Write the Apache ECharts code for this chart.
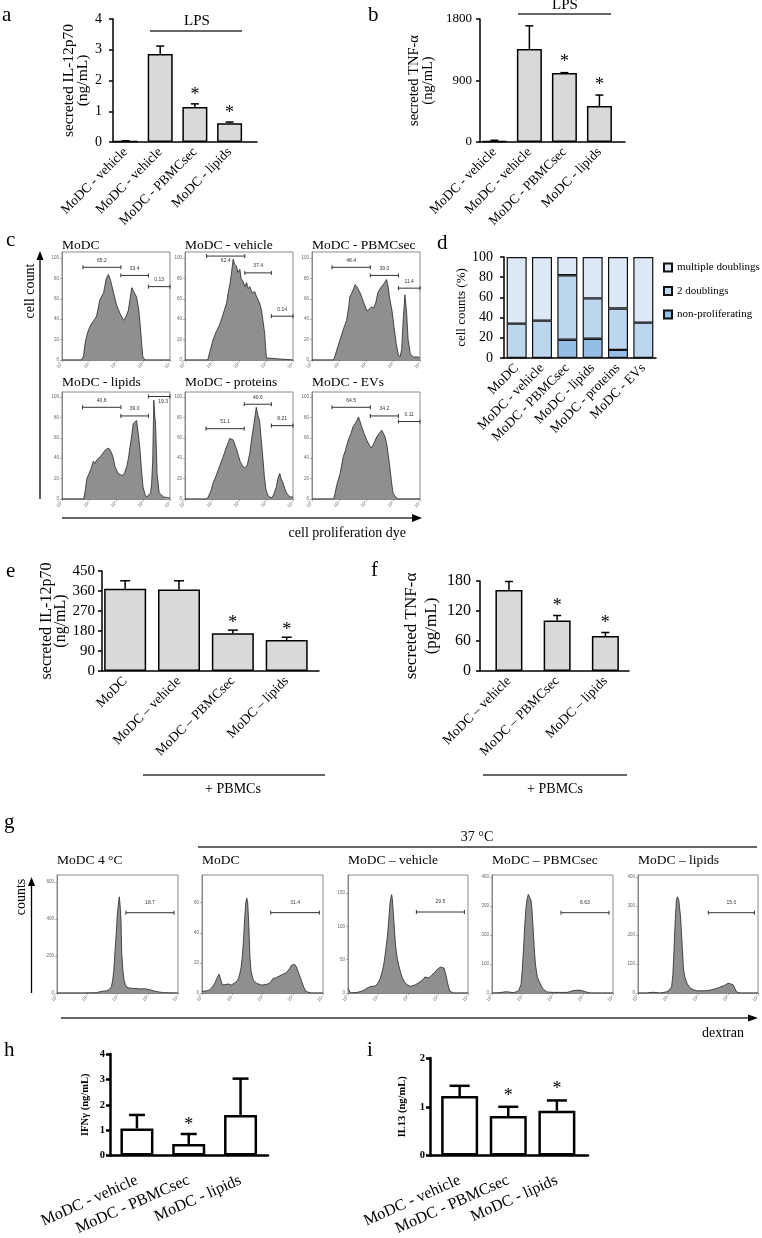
<!DOCTYPE html>
<html>
<head>
<meta charset="utf-8">
<script src="https://cdn.jsdelivr.net/npm/echarts@6/dist/echarts.min.js"></script>
<style>
  html, body { margin: 0; padding: 0; background: #fff; }
  #myChart { width: 762px; height: 1238px; }
</style>
</head>
<body>
<div id="myChart"></div>
<script>
// ---- a / b : LPS stimulated MoDC ----
const catsAB = ['MoDC - vehicle', 'MoDC - vehicle', 'MoDC - PBMCsec', 'MoDC - lipids'];
const il12A = [0.03, 2.86, 1.14, 0.61];
const il12AErr = [0.01, 0.26, 0.1, 0.04];
const sigA = [0, 0, 1, 1];
const tnfB = [15, 1360, 1010, 527];
const tnfBErr = [10, 340, 5, 160];
const sigB = [0, 0, 1, 1];

// ---- d : proliferation (%) ----
const catsD = ['MoDC', 'MoDC - vehicle', 'MoDC - PBMCsec', 'MoDC - lipids', 'MoDC - proteins', 'MoDC - EVs'];
const nonProlif = [0, 0, 18, 19, 8, 0];
const twoDoublings = [34, 37, 64, 40, 41, 35];
const multiDoublings = [66, 63, 18, 41, 51, 65];

// ---- e / f : + PBMCs ----
const catsE = ['MoDC', 'MoDC – vehicle', 'MoDC – PBMCsec', 'MoDC – lipids'];
const il12E = [370, 367, 170, 140];
const il12EErr = [36, 39, 14, 12];
const sigE = [0, 0, 1, 1];
const catsF = ['MoDC – vehicle', 'MoDC – PBMCsec', 'MoDC – lipids'];
const tnfF = [162, 101, 70];
const tnfFErr = [17, 10, 7];
const sigF = [0, 1, 1];

// ---- h / i ----
const catsHI = ['MoDC - vehicle', 'MoDC - PBMCsec', 'MoDC - lipids'];
const ifngH = [1.07, 0.46, 1.6];
const ifngHErr = [0.53, 0.39, 1.43];
const sigH = [0, 1, 0];
const il13I = [1.22, 0.81, 0.92];
const il13IErr = [0.21, 0.19, 0.21];
const sigI = [0, 1, 1];

// ---- c : proliferation dye histograms [position, cell count] ----
const logTicks = ['10⁰', '10¹', '10²', '10³', '10⁴'];
const histModc = [[0,0],[18,0],[20,4],[21,14],[22.5,22],[24.6,30],[27,35],[29,38],[32,43],[35,59],[38.5,66],[41,80],[43,84],[45,78],[47.7,66],[50.8,53],[54,45],[57,39],[59,42],[61.5,49],[63,60],[64.6,71],[66,68],[69,62],[71,50],[72,39],[73.5,20],[74.8,3],[77,0],[100,0]];
const histVehicle = [[0,0],[21,0],[23,8],[26,20],[29,28],[32,34.5],[35,44],[38.5,56],[40,66],[41.5,74],[43,85],[44.6,99],[46,94],[47.7,92],[49,86],[50.8,89],[52,80],[53.8,77],[55.5,72],[57,76],[58.5,70],[60,72],[62,66],[64.6,67],[66,63],[67.7,62],[69,56],[70.8,49],[72,40],[73.8,26],[74.6,12],[75.4,2],[77,0.5],[100,0]];
const histPbmcsec = [[0,0],[20,0],[21,3],[23,10],[26,20],[29,30],[32,39],[34,52],[35,62],[37,66],[40,74],[41.5,72],[43,72],[44.5,66],[46,62],[49,53],[51,48],[52,49],[55,52],[57,51],[59,56],[61,66],[63,70],[66,74],[67.5,73],[69,79],[70.5,72],[72,60],[74,49],[76,32],[78,16],[80,5],[81.5,3],[83,10],[84.5,40],[86,64],[87.5,48],[89,20],[91,6],[94,3],[98,3],[100,2]];
const histLipids = [[0,0],[20,0],[21.5,8],[23,20],[24.6,24],[27,30],[29,37],[30.5,35],[32,38],[35.4,41.5],[38,45],[40,48],[41.5,47],[43,50],[44.5,48],[46,45],[47.5,40],[49,32],[52,25],[54,24],[56,23],[58,26],[60,32],[61.5,40],[63,51],[64.5,62],[66,74],[67.5,73],[69,77],[70.5,65],[72,51],[73.5,30],[75,12],[77,4],[78.5,2],[80,2],[82,6],[83,15],[84,38],[85,97],[86,80],[86.5,77],[87.5,45],[88,25],[90,6],[94,2],[100,1]];
const histProteins = [[0,0],[20,0],[21.5,2],[24,8],[26,15.6],[28.5,22],[30.8,28.6],[33,35],[35.4,41.6],[38,50],[41.5,59.4],[43,60],[44.6,58],[46,54],[48,48],[51,37],[53,33],[55,30.5],[57,32],[58,35],[60,45],[62,61],[64,75],[66,90],[67.5,82],[69,77],[70.5,60],[72,41.6],[73.5,22],[75,9],[77,3],[80,1],[82,4],[84.6,12],[86,20],[87.7,25],[89,20],[90.8,15.6],[92.5,10],[94,6],[97,2],[100,2]];
const histEVs = [[0,0],[20,0],[21,4],[23,14],[26,25],[29,41.6],[31,48],[33.6,58],[36,64],[38,71],[40,74],[41.5,77],[43,80.5],[44.5,76],[46,71],[48,65],[50.6,58],[53,53],[55,50],[57,54],[60,61],[62,64],[64.6,67.5],[66,66],[67.7,61],[69.5,52],[72,32],[73.5,18],[75,6],[78,1],[80,0],[100,0]];
// gates [from, to, height, label, label side]
const gatesModc = [[19.4,54.5,91,'65.2'],[54.5,80,83,'33.4'],[80,100,72,'0.13']];
const gatesVehicle = [[20,55.4,102,'62.4','below'],[55.4,80,85.5,'37.4'],[80,100,43,'0.14']];
const gatesPbmcsec = [[18.5,54,91,'48.4'],[54,80,83,'39.0'],[80,100,70.5,'11.4']];
const gatesLipids = [[19,54.5,90,'40.8'],[54.5,80,81.5,'39.0'],[80,100,100.6,'19.3','below']];
const gatesProteins = [[19.4,54.8,69,'51.1'],[54.8,80,93,'40.6'],[80,100,72,'8.21']];
const gatesEVs = [[18.5,54,90,'64.5'],[54,80,81.5,'34.2'],[80,100,76,'0.11']];

// ---- g : dextran uptake histograms [position, counts] ----
const dexModc4 = [[0,0],[21.8,0],[30,1],[32.8,2],[35.5,7],[38,10],[41,12],[43,18],[45,34],[46,70],[47,124],[48,232],[49,330],[49.8,421],[50.7,480],[51.5,520],[52.2,470],[52.9,394],[53.5,214],[54.5,120],[55.4,70],[56.5,45],[57.6,31],[60,27],[63,25],[66,24],[68.6,22],[71,23],[74,22],[77,17],[79.6,12],[84,6],[87.9,2],[92,1],[100,0]];
const dexModc = [[0,1],[1.4,0.9],[4,1.5],[6.3,2],[8.5,4],[10.5,6.4],[12.5,10],[14,12.5],[15.5,9],[16.8,5.3],[18.5,5.5],[20,6.4],[22,6],[24.2,5.3],[26.5,6.5],[28.4,7.5],[30,9.5],[31,12],[32.3,17],[33.3,24],[34.3,35],[35.3,50],[36.2,60],[37,63],[37.8,60],[38.7,45],[39.6,24],[40.6,14],[42.4,8.6],[45,6.5],[49,5.3],[52,5.5],[55.8,6.4],[57.3,8],[58.7,9.7],[60.7,10],[62.8,10.8],[64.2,11.2],[65.6,12],[67.5,12.8],[69.7,13.5],[71,14.5],[72.5,16.4],[74,18.5],[75.2,19.7],[76.5,19],[78,17.5],[80,13],[82,8.6],[84,4],[86,1],[90,0],[100,0]];
const dexVehicle = [[0,7],[0.8,10],[2.2,0],[5,0.5],[7.8,1],[10,2],[12,3.5],[14,5],[16,7.5],[17.5,8.5],[19,10],[21,10],[23,11],[25,15],[27,22.5],[28.5,32],[30,45],[31.5,65],[32.8,85],[34,110],[35,135],[35.7,142],[36.4,147.5],[37,140],[37.8,120],[38.7,95],[39.7,70],[41,53],[42.5,40],[44,30],[45.3,22.5],[47.3,16],[49.4,12.5],[51,11],[52,10],[54,11],[56.4,12.5],[58.5,15],[60.5,17.5],[62.5,20],[64,24],[65.5,23],[67.5,22.5],[69,25],[70,27.5],[72,30],[74,35],[75.5,37],[77,39],[78.5,39],[80,37.5],[81.5,28],[83,15],[84,8],[85,2.5],[88,0],[100,0]];
const dexPbmcsec = [[0,0],[1,0],[4,0.5],[6.6,1],[9,3],[12,4.6],[14.5,3],[17.6,1],[20,4],[22,8],[23,12.6],[24,30],[25,80],[26,148],[27,230],[28,290],[29,325],[30,340],[30.7,345],[31.4,338],[32.2,320],[33,290],[34,220],[35,148],[36,95],[37.5,55],[39.7,33],[42,15],[45,4.5],[47,3],[50.6,2],[56,2],[61.6,2],[64,4],[67,8],[70,9.5],[72.7,10],[75,7.5],[77,4.5],[81,0],[100,0]];
const dexLipids = [[0,0],[7,0],[10,1.5],[12.8,2.4],[15,1.5],[18,0],[21,2],[24,4.5],[26,10],[28,21.7],[29,60],[30,148],[31,250],[32,320],[32.8,332],[34,320],[35.5,260],[37,148],[38,80],[39,56],[41,32],[43,19.6],[46,11],[49,8],[53,7.5],[57,8],[60,10],[62.7,12.6],[65,15],[68,19.6],[70,23],[72,26],[73.5,30],[75,33.4],[77,32],[79.5,27.6],[80.8,15],[82,4.5],[84,1],[86,0],[100,0]];
const dexGates = [[57,96.7,434,'18.7'], [56.8,97,53.4,'31.4'], [57,97,121.5,'29.5'], [57,96.7,277,'6.63'], [58.6,97,277,'15.0']];

const SERIF = '"Liberation Serif", "Times New Roman", serif';
const SANS = '"Liberation Sans", Arial, sans-serif';

let grids = [], xAxes = [], yAxes = [], series = [], graphics = [];

function errorBars(capHalf, lw, starSize, starGap) {
  return (params, api) => {
    const base = api.coord([api.value(0), api.value(1)]);
    const top = api.coord([api.value(0), api.value(1) + api.value(2)]);
    const kids = [
      {type: 'line', shape: {x1: base[0], y1: base[1], x2: top[0], y2: top[1]}, style: {stroke: '#000', lineWidth: lw}},
      {type: 'line', shape: {x1: top[0] - capHalf, y1: top[1], x2: top[0] + capHalf, y2: top[1]}, style: {stroke: '#000', lineWidth: lw}}
    ];
    if (api.value(3)) {
      kids.push({type: 'text', style: {text: '*', x: top[0], y: top[1] - starGap, align: 'center', verticalAlign: 'middle',
        fontSize: starSize, fontFamily: SERIF, fill: '#000'}});
    }
    return {type: 'group', children: kids};
  };
}

function barPanel(p) {
  const gi = grids.length;
  grids.push({left: p.box[0], top: p.box[1], width: p.box[2] - p.box[0], height: p.box[3] - p.box[1]});
  xAxes.push({
    gridIndex: gi, type: 'value', min: p.xr[0], max: p.xr[1],
    axisLine: {onZero: false, lineStyle: {color: '#000', width: p.lw}},
    axisTick: {show: false}, splitLine: {show: false},
    axisLabel: {customValues: p.cats.map((c, i) => i), formatter: v => p.cats[v], rotate: p.rot,
      fontFamily: SERIF, fontSize: p.catSize, color: '#000', margin: p.catMargin}
  });
  yAxes.push({
    gridIndex: gi, type: 'value', min: 0, max: p.ymax, interval: p.yint,
    name: p.yname, nameLocation: 'middle', nameGap: p.nameGap, nameRotate: 90,
    nameTextStyle: {fontFamily: SERIF, fontSize: p.nameSize, color: '#000', lineHeight: p.nameLH, fontWeight: p.bold ? 'bold' : 'normal'},
    axisLine: {show: true, onZero: false, lineStyle: {color: '#000', width: p.lw}},
    axisTick: {show: true, length: 4, lineStyle: {color: '#000', width: p.lw}},
    splitLine: {show: false},
    axisLabel: {formatter: v => String(v), fontFamily: SERIF, fontSize: p.tickSize, color: '#000', margin: p.tickMargin, fontWeight: p.bold ? 'bold' : 'normal'}
  });
  series.push({
    type: 'bar', xAxisIndex: gi, yAxisIndex: gi, barWidth: p.barWidth,
    data: p.vals.map((v, i) => [i, v]),
    itemStyle: {color: p.fill, borderColor: '#000', borderWidth: p.lw}
  });
  series.push({
    type: 'custom', xAxisIndex: gi, yAxisIndex: gi, z: 5,
    data: p.vals.map((v, i) => [i, v, p.errs[i], p.sig[i]]),
    renderItem: errorBars(p.cap, p.lw, p.starSize, p.starGap)
  });
}

function gateRender(gates, gap) {
  return (params, api) => {
    const g = gates[params.dataIndex];
    const a = api.coord([api.value(0), api.value(2)]);
    const b = api.coord([api.value(1), api.value(2)]);
    const below = g[4] === 'below';
    const st = {stroke: '#333', lineWidth: 1};
    return {type: 'group', children: [
      {type: 'line', shape: {x1: a[0], y1: a[1], x2: b[0], y2: b[1]}, style: st},
      {type: 'line', shape: {x1: a[0], y1: a[1] - 2, x2: a[0], y2: a[1] + 2}, style: st},
      {type: 'line', shape: {x1: b[0], y1: b[1] - 2, x2: b[0], y2: b[1] + 2}, style: st},
      {type: 'text', style: {text: g[3], x: (a[0] + b[0]) / 2 + (below && g[0] > 70 ? 4 : 0), y: a[1] + (below ? 5 : -gap),
        align: 'center', verticalAlign: 'middle', fontSize: 5, fontFamily: SANS, fill: '#333'}}
    ]};
  };
}

function histPanel(box, title, titleY, pts, gates, ymax, yTicks, gap) {
  const gi = grids.length;
  grids.push({left: box[0], top: box[1], width: box[2] - box[0], height: box[3] - box[1],
    show: true, borderColor: '#8c8c8c', borderWidth: 1});
  xAxes.push({
    gridIndex: gi, type: 'value', min: 0, max: 100, interval: 25,
    axisLine: {onZero: false, lineStyle: {color: '#777', width: 0.8}},
    axisTick: {length: 2, lineStyle: {color: '#777', width: 0.6}},
    minorTick: {show: true, splitNumber: 5, length: 1.2, lineStyle: {color: '#999', width: 0.5}},
    splitLine: {show: false},
    axisLabel: {formatter: v => logTicks[Math.round(v / 25)], fontSize: 4.5, color: '#666', rotate: 45, margin: 3}
  });
  yAxes.push({
    gridIndex: gi, type: 'value', min: 0, max: ymax,
    axisLine: {show: true, onZero: false, lineStyle: {color: '#777', width: 0.8}},
    axisTick: {show: true, length: 2, customValues: yTicks, lineStyle: {color: '#777', width: 0.6}},
    splitLine: {show: false},
    axisLabel: {customValues: yTicks, fontSize: 4.5, color: '#666', margin: 3}
  });
  series.push({
    type: 'line', xAxisIndex: gi, yAxisIndex: gi, data: pts, showSymbol: false,
    lineStyle: {color: '#262626', width: 0.8}, areaStyle: {color: '#8f8f8f', opacity: 1}
  });
  series.push({
    type: 'custom', xAxisIndex: gi, yAxisIndex: gi, z: 5,
    data: gates.map(g => [g[0], g[1], g[2]]), renderItem: gateRender(gates, gap)
  });
  graphics.push({type: 'text', x: box[0], y: titleY,
    style: {text: title, fontFamily: SERIF, fontSize: 13.5, fill: '#000', align: 'left', verticalAlign: 'middle'}});
}

// a
barPanel({box: [113, 19, 257, 142], xr: [-0.36, 3.79], cats: catsAB, vals: il12A, errs: il12AErr, sig: sigA,
  ymax: 4, yint: 1, yname: 'secreted IL-12p70\n(ng/mL)', nameGap: 23, nameSize: 15.5, nameLH: 14,
  barWidth: 25, fill: '#d9d9d9', lw: 1.5, rot: 45, catSize: 13.5, catMargin: 8, tickSize: 14, tickMargin: 11,
  cap: 4, starSize: 18, starGap: 9});
// b
barPanel({box: [480, 19, 625, 142], xr: [-0.41, 3.73], cats: catsAB, vals: tnfB, errs: tnfBErr, sig: sigB,
  ymax: 1800, yint: 900, yname: 'secreted TNF-α\n(ng/mL)', nameGap: 45, nameSize: 14.5, nameLH: 14,
  barWidth: 25, fill: '#d9d9d9', lw: 1.5, rot: 45, catSize: 13.5, catMargin: 8, tickSize: 13, tickMargin: 8,
  cap: 4, starSize: 18, starGap: 10});
// e
barPanel({box: [102, 571, 319, 671], xr: [-0.43, 3.6], cats: catsE, vals: il12E, errs: il12EErr, sig: sigE,
  ymax: 450, yint: 90, yname: 'secreted IL-12p70\n(ng/mL)', nameGap: 34, nameSize: 16, nameLH: 14,
  barWidth: 42, fill: '#d9d9d9', lw: 1.5, rot: 45, catSize: 13.5, catMargin: 8, tickSize: 15, tickMargin: 7,
  cap: 5, starSize: 18, starGap: 7});
// f
barPanel({box: [480, 581, 629, 671], xr: [-0.6, 2.49], cats: catsF, vals: tnfF, errs: tnfFErr, sig: sigF,
  ymax: 180, yint: 60, yname: 'secreted TNF-α\n(pg/mL)', nameGap: 38, nameSize: 17, nameLH: 20,
  barWidth: 27, fill: '#d9d9d9', lw: 1.5, rot: 45, catSize: 13.5, catMargin: 8, tickSize: 16, tickMargin: 9,
  cap: 4, starSize: 18, starGap: 9});
// h
barPanel({box: [110, 1054, 268, 1157], xr: [-0.52, 2.53], cats: catsHI, vals: ifngH, errs: ifngHErr, sig: sigH,
  ymax: 4, yint: 1, yname: 'IFNγ (ng/mL)', nameGap: 19, nameSize: 10.5, nameLH: 12, bold: true,
  barWidth: 33, fill: '#ffffff', lw: 2.5, rot: 24, catSize: 16, catMargin: 24, tickSize: 10.5, tickMargin: 5,
  cap: 8, starSize: 18, starGap: 9});
// i
barPanel({box: [430, 1058, 588, 1163], xr: [-0.61, 2.64], cats: catsHI, vals: il13I, errs: il13IErr, sig: sigI,
  ymax: 2, yint: 1, yname: 'IL13 (ng/mL)', nameGap: 22, nameSize: 10.5, nameLH: 12, bold: true,
  barWidth: 37, fill: '#ffffff', lw: 2.5, rot: 24, catSize: 16, catMargin: 24, tickSize: 10.5, tickMargin: 5,
  cap: 10, starSize: 18, starGap: 11});

// d : stacked proliferation bars
(function () {
  const gi = grids.length;
  grids.push({left: 504, top: 257, width: 152, height: 101});
  xAxes.push({
    gridIndex: gi, type: 'category', data: catsD,
    axisLine: {onZero: false, lineStyle: {color: '#000', width: 1.5}}, axisTick: {show: false}, splitLine: {show: false},
    axisLabel: {interval: 0, rotate: 45, fontFamily: SERIF, fontSize: 13.5, color: '#000', margin: 8}
  });
  yAxes.push({
    gridIndex: gi, type: 'value', min: 0, max: 100, interval: 20,
    name: 'cell counts (%)', nameLocation: 'middle', nameGap: 30, nameRotate: 90,
    nameTextStyle: {fontFamily: SERIF, fontSize: 13, color: '#000'},
    axisLine: {show: true, lineStyle: {color: '#000', width: 1.5}},
    axisTick: {show: true, length: 4, lineStyle: {color: '#000', width: 1.5}},
    splitLine: {show: false},
    axisLabel: {fontFamily: SERIF, fontSize: 14, color: '#000', margin: 11}
  });
  const layers = [['non-proliferating', nonProlif, '#95bee6'], ['2 doublings', twoDoublings, '#bcd6ee'], ['multiple doublings', multiDoublings, '#dde9f6']];
  layers.forEach(l => series.push({
    type: 'bar', name: l[0], stack: 'prolif', xAxisIndex: gi, yAxisIndex: gi, barWidth: 20,
    data: l[1],
    itemStyle: {color: l[2], borderColor: '#111', borderWidth: 1.2}
  }));
})();

// c histograms
histPanel([62, 252, 170, 360], 'MoDC', 245, histModc, gatesModc, 106, [0, 20, 40, 60, 80, 100], 7);
histPanel([185, 252, 293, 360], 'MoDC - vehicle', 245, histVehicle, gatesVehicle, 106, [0, 20, 40, 60, 80, 100], 7);
histPanel([312, 252, 420, 360], 'MoDC - PBMCsec', 245, histPbmcsec, gatesPbmcsec, 106, [0, 20, 40, 60, 80, 100], 7);
histPanel([62, 392, 170, 499], 'MoDC - lipids', 382, histLipids, gatesLipids, 105, [0, 20, 40, 60, 80, 100], 7);
histPanel([185, 392, 293, 499], 'MoDC - proteins', 382, histProteins, gatesProteins, 105, [0, 20, 40, 60, 80, 100], 7);
histPanel([312, 392, 420, 499], 'MoDC - EVs', 382, histEVs, gatesEVs, 105, [0, 20, 40, 60, 80, 100], 7);

// g histograms
histPanel([57, 875, 178, 993], 'MoDC 4 °C', 860, dexModc4, [dexGates[0]], 638, [0, 200, 400, 600], 10);
histPanel([202, 875, 323, 993], 'MoDC', 860, dexModc, [dexGates[1]], 78.4, [0, 20, 40, 60], 10);
histPanel([348, 875, 468, 993], 'MoDC – vehicle', 860, dexVehicle, [dexGates[2]], 177, [0, 50, 100, 150], 10);
histPanel([492, 875, 613, 993], 'MoDC – PBMCsec', 860, dexPbmcsec, [dexGates[3]], 407, [0, 100, 200, 300, 400], 10);
histPanel([638, 875, 758, 993], 'MoDC – lipids', 860, dexLipids, [dexGates[4]], 407, [0, 100, 200, 300, 400], 10);

// annotations
function txt(s, x, y, size, align, rot) {
  graphics.push({type: 'text', x: x, y: y, rotation: rot || 0,
    style: {text: s, fontFamily: SERIF, fontSize: size, fill: '#000', align: align || 'center', verticalAlign: 'middle'}});
}
function hline(x1, x2, y, w) {
  graphics.push({type: 'line', shape: {x1: x1, y1: y, x2: x2, y2: y}, style: {stroke: '#333', lineWidth: w || 1.3}});
}
function vline(x, y1, y2) {
  graphics.push({type: 'line', shape: {x1: x, y1: y1, x2: x, y2: y2}, style: {stroke: '#000', lineWidth: 1.3}});
}
function arrowHead(pts) {
  graphics.push({type: 'polygon', shape: {points: pts}, style: {fill: '#000'}});
}

[['a', 2, 15], ['b', 368, 15], ['c', 6, 240], ['d', 437, 243], ['e', 6, 571], ['f', 371, 570], ['g', 4, 822], ['h', 4, 1050], ['i', 367, 1050]]
  .forEach(l => txt(l[0], l[1], l[2], 21, 'left'));

hline(150, 242, 31); txt('LPS', 197, 21, 15);
hline(518, 611, 14); txt('LPS', 565, 5, 15);
hline(143, 325, 775); txt('+ PBMCs', 233, 789, 14);
hline(483, 627, 775); txt('+ PBMCs', 555, 789, 14);
hline(198, 757, 847); txt('37 °C', 477, 837, 14);

vline(40, 258, 499); arrowHead([[40, 251], [36.5, 260], [43.5, 260]]);
txt('cell count', 30, 291, 14, 'center', Math.PI / 2);
hline(62, 414, 518); arrowHead([[422, 518], [412, 514], [412, 522]]);
txt('cell proliferation dye', 406, 533, 14, 'right');

vline(31.5, 884, 993); arrowHead([[31.5, 877], [28, 886], [35, 886]]);
txt('counts', 21, 897, 14, 'center', Math.PI / 2);
hline(61, 750, 1018); arrowHead([[758, 1018], [748, 1014.5], [748, 1021.5]]);
txt('dextran', 723, 1033, 14);

const myChart = echarts.init(document.getElementById('myChart'));
myChart.setOption({
  animation: false,
  backgroundColor: '#fff',
  legend: {
    data: ['multiple doublings', '2 doublings', 'non-proliferating'],
    orient: 'vertical', left: 658, top: 257, icon: 'rect',
    itemWidth: 8, itemHeight: 8, itemGap: 12.5,
    textStyle: {fontFamily: SERIF, fontSize: 11, color: '#000'}
  },
  grid: grids,
  xAxis: xAxes,
  yAxis: yAxes,
  series: series,
  graphic: graphics
});
</script>
</body>
</html>
